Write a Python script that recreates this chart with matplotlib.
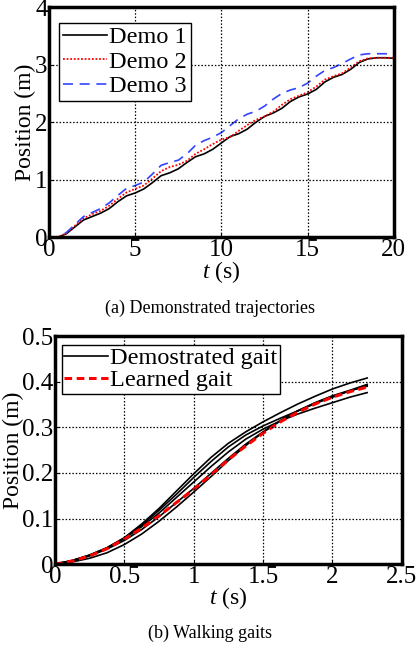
import numpy as np
import matplotlib
matplotlib.use('Agg')
import matplotlib.pyplot as plt

plt.rcParams['font.family'] = ['Liberation Serif', 'DejaVu Serif']
plt.rcParams['mathtext.fontset'] = 'custom'
plt.rcParams['mathtext.it'] = 'Liberation Serif:italic'
plt.rcParams['mathtext.rm'] = 'Liberation Serif'

# (a) demonstrated trajectories, sampled every 0.5 s
t_demo = np.arange(0, 20.01, 0.5)
demo1 = [0, 0.0, 0.06, 0.18, 0.30, 0.36, 0.42, 0.50, 0.62, 0.72, 0.77, 0.84, 0.95, 1.07,
         1.12, 1.19, 1.30, 1.40, 1.45, 1.53, 1.64, 1.75, 1.80, 1.88, 2.00, 2.10, 2.16,
         2.24, 2.36, 2.44, 2.49, 2.57, 2.70, 2.78, 2.83, 2.92, 3.04, 3.10, 3.12, 3.12, 3.11]
demo2 = [0, 0.0, 0.07, 0.20, 0.33, 0.40, 0.46, 0.55, 0.67, 0.78, 0.84, 0.90, 1.02, 1.15,
         1.22, 1.26, 1.33, 1.45, 1.53, 1.62, 1.70, 1.74, 1.85, 1.95, 2.04, 2.10, 2.18,
         2.30, 2.40, 2.46, 2.52, 2.62, 2.74, 2.80, 2.85, 2.95, 3.06, 3.11, 3.12, 3.12, 3.12]
demo3 = [0, 0.0, 0.08, 0.22, 0.36, 0.43, 0.50, 0.60, 0.73, 0.85, 0.90, 0.96, 1.10, 1.25,
         1.30, 1.34, 1.45, 1.60, 1.68, 1.74, 1.82, 1.94, 2.06, 2.14, 2.19, 2.28, 2.40,
         2.50, 2.56, 2.60, 2.68, 2.80, 2.90, 2.95, 3.02, 3.10, 3.17, 3.19, 3.19, 3.19, 3.18]

# (b) walking gaits, sampled every 0.125 s
t_gait = np.arange(0, 2.251, 0.125)
gait_a = [0, 0.008, 0.020, 0.036, 0.058, 0.088, 0.122, 0.160, 0.198, 0.234, 0.265, 0.290,
          0.312, 0.332, 0.351, 0.368, 0.384, 0.397, 0.408]
gait_b = [0, 0.008, 0.020, 0.036, 0.057, 0.085, 0.118, 0.153, 0.190, 0.225, 0.257, 0.283,
          0.303, 0.320, 0.336, 0.352, 0.366, 0.380, 0.392]
gait_c = [0, 0.008, 0.019, 0.035, 0.056, 0.082, 0.112, 0.146, 0.180, 0.214, 0.246, 0.274,
          0.296, 0.314, 0.329, 0.342, 0.354, 0.366, 0.376]
gait_d = [0, 0.007, 0.018, 0.033, 0.052, 0.076, 0.104, 0.135, 0.166, 0.199, 0.232, 0.263,
          0.290, 0.315, 0.336, 0.353, 0.368, 0.380, 0.390]
gait_e = [0, 0.005, 0.013, 0.025, 0.043, 0.066, 0.094, 0.125, 0.158, 0.192, 0.227, 0.260,
          0.289, 0.314, 0.336, 0.354, 0.369, 0.381, 0.394]
learned = [0, 0.007, 0.018, 0.034, 0.055, 0.079, 0.106, 0.135, 0.164, 0.196, 0.229, 0.259,
           0.287, 0.312, 0.333, 0.351, 0.366, 0.378, 0.388]

fig = plt.figure(figsize=(4.19, 6.5), dpi=100)

def style_axes(ax):
    for s in ax.spines.values():
        s.set_linewidth(2.5)
    ax.grid(True, color='black', linestyle=(0, (1.2, 1.5)), linewidth=0.9)
    ax.tick_params(direction='in', length=3, labelsize=18, pad=1)
    ax.set_axisbelow(False)

def style_legend(leg):
    fr = leg.get_frame()
    fr.set_edgecolor('black')
    fr.set_linewidth(1.0)
    fr.set_alpha(1)

ax1 = fig.add_axes([0.117, 0.635, 0.823, 0.354])
ax1.plot(t_demo, demo1, color='black', linewidth=1.2, label='Demo 1')
ax1.plot(t_demo, demo2, color='red', linewidth=1.3, linestyle=(0, (1, 1)), label='Demo 2')
ax1.plot(t_demo, demo3, color='#3344ff', linewidth=1.2, linestyle=(0, (6, 4)), label='Demo 3')
ax1.set_xlim(0, 20)
ax1.set_ylim(0, 4)
ax1.set_xticks([0, 5, 10, 15, 20])
ax1.set_yticks([0, 1, 2, 3, 4])
style_axes(ax1)
ax1.set_xlabel(r'$t$ (s)', fontsize=17, labelpad=-1)
ax1.set_ylabel('Position (m)', fontsize=17, labelpad=-1)
leg1 = ax1.legend(loc='upper left', bbox_to_anchor=(0.03, 0.932), borderaxespad=0,
                  fontsize=17.5, frameon=True, fancybox=False,
                  handlelength=1.8, handletextpad=0.1, borderpad=0.15, labelspacing=0.1)
style_legend(leg1)
fig.text(0.5, 0.526, '(a) Demonstrated trajectories', ha='center', va='center', fontsize=13)

ax2 = fig.add_axes([0.131, 0.132, 0.828, 0.351])
first = True
for g in [gait_a, gait_b, gait_c, gait_d, gait_e]:
    ax2.plot(t_gait, g, color='black', linewidth=1.2,
             label='Demostrated gait' if first else None)
    first = False
ax2.plot(t_gait, learned, color='red', linewidth=2.2, linestyle=(0, (2.5, 1.5)),
         label='Learned gait')
ax2.set_xlim(0, 2.5)
ax2.set_ylim(0, 0.5)
ax2.set_xticks([0, 0.5, 1, 1.5, 2, 2.5])
ax2.set_xticklabels(['0', '0.5', '1', '1.5', '2', '2.5'])
ax2.set_yticks([0, 0.1, 0.2, 0.3, 0.4, 0.5])
ax2.set_yticklabels(['0', '0.1', '0.2', '0.3', '0.4', '0.5'])
style_axes(ax2)
ax2.set_xlabel(r'$t$ (s)', fontsize=17, labelpad=-2)
ax2.set_ylabel('Position (m)', fontsize=17, labelpad=-1)
leg2 = ax2.legend(loc='upper left', bbox_to_anchor=(0.02, 0.962), borderaxespad=0,
                  fontsize=17.5, frameon=True, fancybox=False,
                  handlelength=1.8, handletextpad=0.1, borderpad=0.1, labelspacing=0.0)
style_legend(leg2)
fig.text(0.5, 0.026, '(b) Walking gaits', ha='center', va='center', fontsize=13)

fig.savefig('out.png', dpi=100)
